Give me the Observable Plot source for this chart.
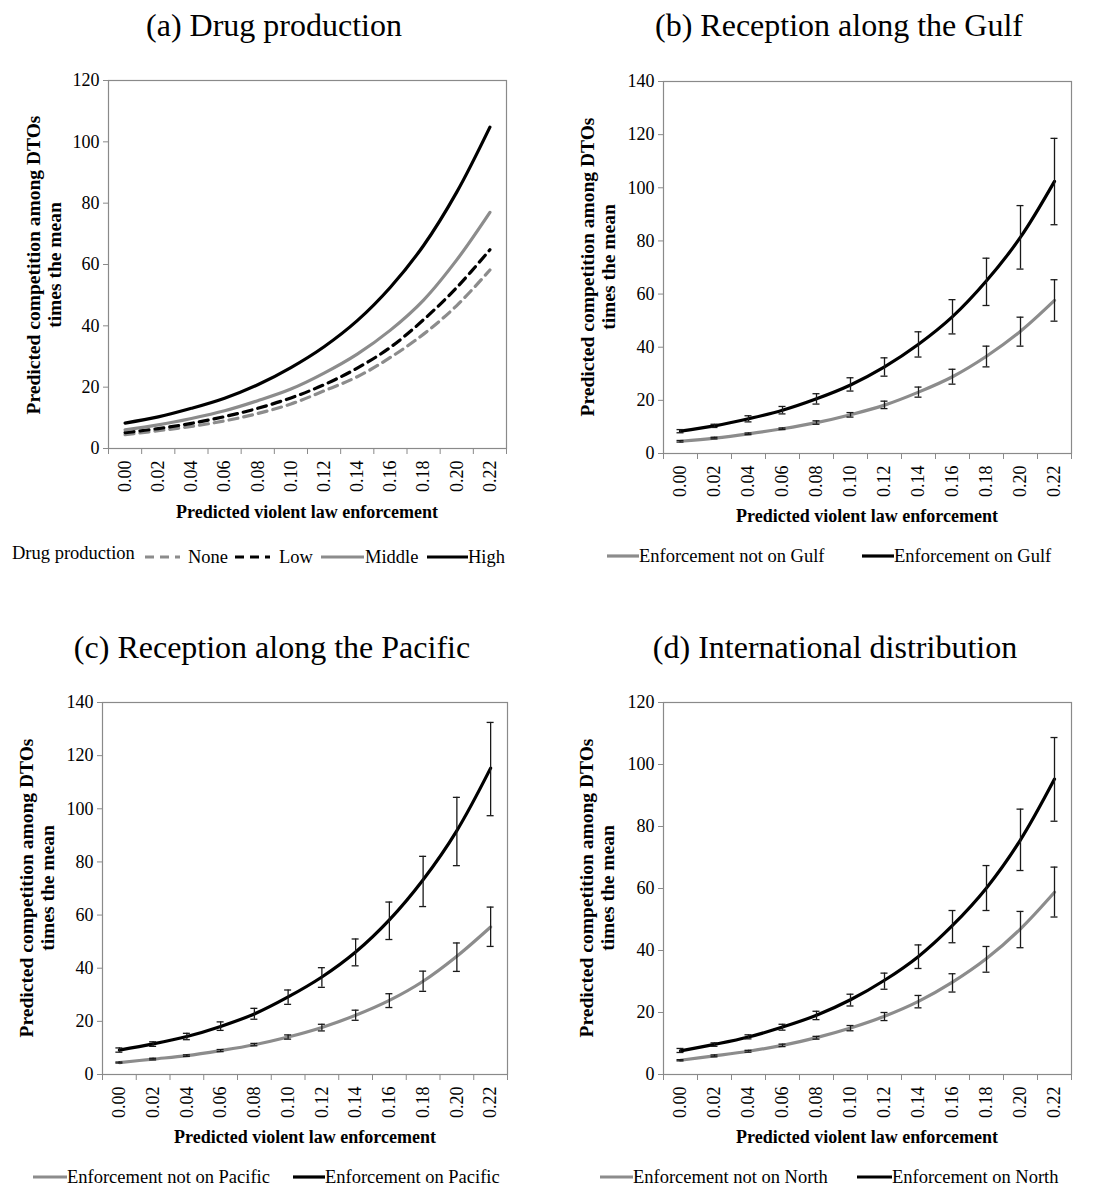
<!DOCTYPE html>
<html><head><meta charset="utf-8">
<script src="https://cdn.jsdelivr.net/npm/d3@7"></script>
<script src="https://cdn.jsdelivr.net/npm/@observablehq/plot@0.6"></script>
<style>
body{margin:0;background:#fff;font-family:"Liberation Serif",serif;color:#000}
#root{position:relative;width:1096px;height:1188px;overflow:hidden}
.abs{position:absolute;white-space:nowrap;font-family:"Liberation Serif",serif}
.c{transform:translate(-50%,-50%)}
.title{font-size:32px}
.ylab{font-weight:bold;font-size:19.5px;line-height:21px;text-align:center;transform:translate(-50%,-50%) rotate(-90deg)}
.xlab{font-weight:bold;font-size:18px}
.legtxt{font-size:18.5px;transform:translateY(-50%)}
svg.sw{position:absolute;overflow:visible}
svg text{font-family:"Liberation Serif",serif}
</style></head><body><div id="root"></div>
<script>
// ---------- data ----------
const xCats = [0.00, 0.02, 0.04, 0.06, 0.08, 0.10, 0.12, 0.14, 0.16, 0.18, 0.20, 0.22];
const yTicks120 = [0, 20, 40, 60, 80, 100, 120];
const yTicks140 = [0, 20, 40, 60, 80, 100, 120, 140];

const titles = ["(a) Drug production", "(b) Reception along the Gulf", "(c) Reception along the Pacific", "(d) International distribution"];
const yLabelLines = ["Predicted competition among DTOs", "times the mean"];
const xLabel = "Predicted violent law enforcement";

// (a) Drug production
const prodLegendTitle = "Drug production";
const prodNames = ["None", "Low", "Middle", "High"];
const prodNone   = [4.5, 5.8, 7.2, 9.0, 11.4, 14.5, 18.8, 23.4, 29.7, 37.3, 46.6, 58.2];
const prodLow    = [5.2, 6.5, 8.2, 10.4, 13.1, 16.5, 20.8, 26.2, 33.0, 42.0, 52.5, 64.8];
const prodMiddle = [6.1, 7.7, 9.8, 12.3, 15.6, 19.4, 24.6, 30.8, 38.6, 48.4, 61.5, 77.0];
const prodHigh   = [8.3, 10.3, 13.1, 16.4, 20.8, 26.4, 33.2, 41.7, 52.6, 66.2, 83.6, 104.8];

// (b) Gulf
const gulfNames = ["Enforcement not on Gulf", "Enforcement on Gulf"];
const gulfNot   = [4.6, 5.8, 7.4, 9.3, 11.6, 14.6, 18.2, 23.1, 28.9, 36.6, 46.0, 57.6];
const gulfNotLo = [4.3, 5.5, 7.1, 9.0, 11.0, 13.7, 16.9, 21.2, 26.1, 32.6, 40.4, 49.8];
const gulfNotHi = [4.9, 6.1, 7.7, 9.6, 12.3, 15.4, 19.7, 25.0, 31.7, 40.4, 51.3, 65.4];
const gulfOn    = [8.4, 10.4, 13.1, 16.3, 20.6, 25.8, 32.6, 41.1, 51.5, 65.0, 81.4, 102.4];
const gulfOnLo  = [7.8, 9.8, 11.9, 14.9, 18.6, 23.5, 29.1, 36.3, 45.0, 55.7, 69.4, 86.1];
const gulfOnHi  = [9.0, 11.0, 14.2, 17.7, 22.5, 28.5, 36.0, 45.8, 57.9, 73.5, 93.3, 118.6];

// (c) Pacific
const pacNames = ["Enforcement not on Pacific", "Enforcement on Pacific"];
const pacNot   = [4.5, 5.8, 7.1, 9.0, 11.2, 14.1, 17.7, 22.3, 27.9, 35.1, 44.5, 55.5];
const pacNotLo = [4.3, 5.5, 6.8, 8.6, 10.8, 13.3, 16.4, 20.4, 25.2, 31.3, 38.8, 48.2];
const pacNotHi = [4.7, 6.1, 7.4, 9.4, 11.7, 14.9, 18.9, 24.2, 30.4, 38.9, 49.5, 63.0];
const pacOn    = [9.2, 11.5, 14.3, 18.1, 22.8, 29.2, 36.7, 46.1, 58.2, 73.3, 91.8, 115.3];
const pacOnLo  = [8.4, 10.6, 13.1, 16.6, 20.8, 26.4, 32.8, 40.9, 50.8, 63.2, 78.6, 97.4];
const pacOnHi  = [10.0, 12.3, 15.5, 19.8, 24.9, 31.8, 40.2, 51.0, 64.9, 82.1, 104.3, 132.5];

// (d) North
const northNames = ["Enforcement not on North", "Enforcement on North"];
const northNot   = [4.6, 6.0, 7.5, 9.4, 11.9, 15.0, 18.8, 23.6, 29.8, 37.4, 47.0, 58.8];
const northNotLo = [4.4, 5.7, 7.2, 9.0, 11.4, 14.1, 17.4, 21.5, 26.6, 33.0, 40.9, 50.8];
const northNotHi = [4.8, 6.3, 7.8, 9.8, 12.3, 15.8, 20.0, 25.5, 32.5, 41.3, 52.6, 66.9];
const northOn    = [7.6, 9.7, 12.1, 15.3, 19.1, 24.1, 30.4, 38.1, 48.1, 60.2, 75.7, 95.3];
const northOnLo  = [7.1, 9.1, 11.5, 14.3, 17.7, 22.1, 27.5, 34.2, 42.5, 52.9, 65.8, 81.7];
const northOnHi  = [8.4, 10.2, 12.8, 16.2, 20.4, 25.9, 32.7, 41.8, 52.9, 67.4, 85.6, 108.7];

// ---------- styles ----------
const GRAY = "#8c8c8c";
const AXIS = "#8a8a8a";
const BLACK = "#000";
const BAR = "#1a1a1a";
const DASH = "9,6";
const FONT = "'Liberation Serif', serif";

const root = document.getElementById("root");

function addText(cls, text, left, top, extraStyle = "") {
  const d = document.createElement("div");
  d.className = "abs " + cls;
  d.style.cssText = `left:${left}px;top:${top}px;${extraStyle}`;
  d.textContent = text;
  root.appendChild(d);
  return d;
}

function makePanel(cfg) {
  const step = xCats[1] - xCats[0];
  const bounds = [...xCats.map(v => v - step / 2), xCats[xCats.length - 1] + step / 2];
  const marks = [
    Plot.frame({stroke: AXIS, strokeWidth: 1.2}),
    Plot.axisY({ticks: cfg.yTicks, tickSize: 5, tickPadding: 4, stroke: AXIS, fill: "black", label: null, fontFamily: FONT, fontSize: 18}),
    Plot.axisX({ticks: bounds, tickSize: 6, text: null, stroke: AXIS, label: null}),
    Plot.axisX({ticks: xCats, tickFormat: d3.format(".2f"), tickRotate: -90, tickSize: 0, tickPadding: 12, fill: "black", label: null, fontFamily: FONT, fontSize: 18})
  ];
  const rowsList = cfg.series.map(s => xCats.map((x, i) => ({x, y: s.y[i], lo: s.lo ? s.lo[i] : null, hi: s.hi ? s.hi[i] : null})));
  cfg.series.forEach((s, k) => {
    marks.push(Plot.line(rowsList[k], {x: "x", y: "y", stroke: s.color, strokeWidth: 3.2, strokeDasharray: s.dash, curve: "catmull-rom"}));
  });
  cfg.series.forEach((s, k) => {
    if (!s.lo) return;
    const rows = rowsList[k];
    marks.push(Plot.ruleX(rows, {x: "x", y1: "lo", y2: "hi", stroke: BAR, strokeWidth: 1.3}));
    marks.push(Plot.ruleY(rows, {y: "hi", x1: "x", x2: "x", insetLeft: -3.5, insetRight: -3.5, stroke: BAR, strokeWidth: 1.3}));
    marks.push(Plot.ruleY(rows, {y: "lo", x1: "x", x2: "x", insetLeft: -3.5, insetRight: -3.5, stroke: BAR, strokeWidth: 1.3}));
  });
  const svg = Plot.plot({
    width: cfg.width,
    height: cfg.mT + cfg.plotH + cfg.mB,
    marginLeft: cfg.mL, marginRight: cfg.mR, marginTop: cfg.mT, marginBottom: cfg.mB,
    x: {domain: [bounds[0], bounds[bounds.length - 1]]},
    y: {domain: [0, cfg.yTicks[cfg.yTicks.length - 1]]},
    style: {fontFamily: FONT, fontSize: "18px", color: "black", background: "transparent", overflow: "visible"},
    marks
  });
  svg.style.position = "absolute";
  svg.style.left = cfg.left + "px";
  svg.style.top = cfg.top + "px";
  root.appendChild(svg);
}

function swatch(x1, x2, y, color, dash) {
  const ns = "http://www.w3.org/2000/svg";
  const s = document.createElementNS(ns, "svg");
  s.setAttribute("class", "sw");
  s.setAttribute("width", x2 - x1);
  s.setAttribute("height", 6);
  s.style.left = x1 + "px";
  s.style.top = (y - 3) + "px";
  const l = document.createElementNS(ns, "line");
  l.setAttribute("x1", 0); l.setAttribute("x2", x2 - x1);
  l.setAttribute("y1", 3); l.setAttribute("y2", 3);
  l.setAttribute("stroke", color); l.setAttribute("stroke-width", 3.2);
  if (dash) l.setAttribute("stroke-dasharray", dash);
  s.appendChild(l);
  root.appendChild(s);
}

// ---------- panels ----------
makePanel({left: 0, top: 60, width: 548, mL: 108, mR: 42, mT: 20, plotH: 368, mB: 52, yTicks: yTicks120,
  series: [
    {y: prodNone, color: GRAY, dash: DASH},
    {y: prodLow, color: BLACK, dash: DASH},
    {y: prodMiddle, color: GRAY},
    {y: prodHigh, color: BLACK}
  ]});
makePanel({left: 548, top: 60, width: 548, mL: 115, mR: 25, mT: 21, plotH: 372, mB: 52, yTicks: yTicks140,
  series: [
    {y: gulfNot, lo: gulfNotLo, hi: gulfNotHi, color: GRAY},
    {y: gulfOn, lo: gulfOnLo, hi: gulfOnHi, color: BLACK}
  ]});
makePanel({left: 0, top: 680, width: 548, mL: 102, mR: 41, mT: 22, plotH: 372, mB: 52, yTicks: yTicks140,
  series: [
    {y: pacNot, lo: pacNotLo, hi: pacNotHi, color: GRAY},
    {y: pacOn, lo: pacOnLo, hi: pacOnHi, color: BLACK}
  ]});
makePanel({left: 548, top: 680, width: 548, mL: 115, mR: 25, mT: 22, plotH: 372, mB: 52, yTicks: yTicks120,
  series: [
    {y: northNot, lo: northNotLo, hi: northNotHi, color: GRAY},
    {y: northOn, lo: northOnLo, hi: northOnHi, color: BLACK}
  ]});

// ---------- titles ----------
addText("title c", titles[0], 274, 25);
addText("title c", titles[1], 839, 25);
addText("title c", titles[2], 272, 647);
addText("title c", titles[3], 835, 647);

// ---------- axis titles ----------
[[44, 265], [598, 267], [37, 888], [597, 888]].forEach(([x, y]) => {
  const d = addText("ylab", "", x, y);
  d.innerHTML = yLabelLines.map(t => `<div>${t}</div>`).join("");
});
addText("xlab c", xLabel, 307, 512);
addText("xlab c", xLabel, 867, 516);
addText("xlab c", xLabel, 305, 1137);
addText("xlab c", xLabel, 867, 1137);

// ---------- legends ----------
addText("legtxt", prodLegendTitle, 12, 553);
swatch(145, 180, 557, GRAY, DASH);   addText("legtxt", prodNames[0], 188, 557);
swatch(235, 270, 557, BLACK, DASH);  addText("legtxt", prodNames[1], 279, 557);
swatch(321, 364, 557, GRAY);         addText("legtxt", prodNames[2], 365, 557);
swatch(427, 468, 557, BLACK);        addText("legtxt", prodNames[3], 468, 557);

swatch(607, 639, 556, GRAY);  addText("legtxt", gulfNames[0], 639, 556);
swatch(862, 894, 556, BLACK); addText("legtxt", gulfNames[1], 894, 556);

swatch(33, 67, 1177, GRAY);   addText("legtxt", pacNames[0], 67, 1177);
swatch(293, 325, 1177, BLACK); addText("legtxt", pacNames[1], 325, 1177);

swatch(600, 633, 1177, GRAY);  addText("legtxt", northNames[0], 633, 1177);
swatch(857, 892, 1177, BLACK); addText("legtxt", northNames[1], 892, 1177);
</script></body></html>
